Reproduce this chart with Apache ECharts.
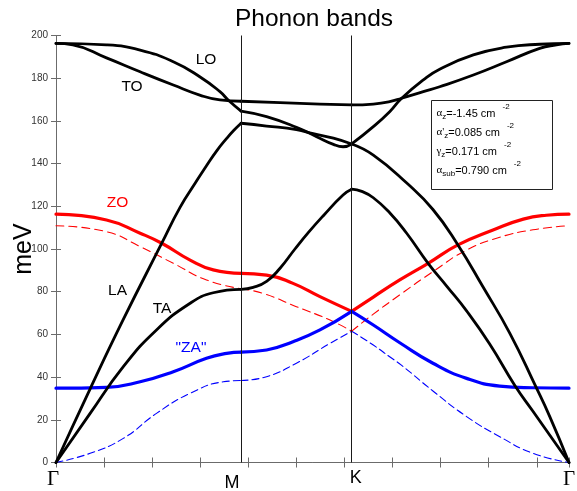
<!DOCTYPE html>
<html>
<head>
<meta charset="utf-8">
<script src="https://cdn.jsdelivr.net/npm/echarts@6/dist/echarts.min.js"></script>
<style>
  html, body { margin: 0; padding: 0; background: #fff; }
  #chart { width: 577px; height: 491px; }
</style>
</head>
<body>
<div id="chart"></div>
<script>
// High-symmetry points along the path Γ–M–K–Γ (path coordinate)
const kM = 3.85;
const kK = 6.15;
const kEnd = 10.67;
const kTicks = [0, kM, kK, kEnd];
const kTickLabels = ['Γ', 'M', 'K', 'Γ'];

// Phonon branches, [k, energy in meV]
const LO = [[0,196.3],[1.05,195.6],[1.75,193.2],[2.44,187.7],[2.99,180.7],[3.41,173.7],[3.58,169.8],[3.85,164.6],
  [4.38,162.0],[5.00,157.0],[5.42,152.6],[5.77,149.0],[5.97,147.9],[6.15,149.2],
  [6.60,157.3],[6.94,164.3],[7.19,170.6],[7.64,179.2],[7.98,184.2],[8.68,190.9],[9.37,194.5],[10.06,195.9],[10.67,196.3]];
const TO = [[0,196.3],[0.35,195.6],[1.05,189.5],[1.75,183.0],[2.44,176.8],[2.99,172.1],[3.41,169.8],[3.85,169.2],
  [4.66,168.6],[5.49,167.9],[6.15,167.5],
  [6.60,167.9],[6.94,169.0],[7.19,170.6],[7.64,173.7],[7.98,176.0],[8.68,181.5],[9.37,187.7],[10.06,194.0],[10.41,195.6],[10.67,196.3]];
const LA = [[0,0],[0.71,34.5],[1.40,67],[2.20,102.7],[2.58,119.5],[2.90,131],[3.13,139],[3.35,146.2],[3.55,151.8],[3.70,155.6],[3.85,158.9],
  [4.38,157.6],[5.00,155.9],[5.35,154.0],[5.77,151.9],[6.15,149.2],
  [6.60,144],[7.29,131],[7.84,118.5],[8.36,101.9],[8.88,82.3],[9.44,60.5],[9.98,35.5],[10.27,21.5],[10.67,0]];
const TA = [[0,0],[0.71,23],[1.40,44.9],[2.09,62.1],[2.79,74.6],[3.27,79.5],[3.85,81.1],
  [4.10,82],[4.38,84.8],[4.66,91],[4.97,100],[5.26,108],[5.56,115.6],[5.97,125.3],[6.15,128],
  [6.36,127],[6.60,124],[6.94,117],[7.29,107.5],[7.74,93.3],[8.13,82.5],[8.54,71],[9.02,55.5],[9.54,36.2],[9.92,24],[10.67,0]];
const ZO = [[0,116.3],[1.05,113.6],[1.75,107.4],[2.20,102.7],[2.79,94.8],[3.27,90.2],[3.85,88.6],
  [4.38,87.8],[4.93,83.9],[5.49,77.7],[6.15,70.8],
  [6.60,77.5],[7.15,85.5],[7.74,93.3],[8.36,101.9],[9.09,108.9],[9.72,114],[10.2,115.8],[10.67,116.3]];
const ZOfree = [[0,110.9],[1.05,108.1],[1.75,101.1],[2.44,93.3],[3.13,85.5],[3.85,81.4],
  [4.31,79.2],[5.00,73],[5.70,66.7],[6.15,61.5],
  [6.60,69.5],[7.15,78.5],[7.84,89.4],[8.54,99.5],[9.23,105.5],[9.92,109],[10.67,110.9]];
const ZA = [[0,34.8],[1.05,35.2],[1.75,37.8],[2.44,42.5],[3.13,48.8],[3.55,51.1],[3.85,51.7],
  [4.38,52.7],[4.93,56.6],[5.49,62.1],[6.15,70.8],
  [6.60,64.4],[7.15,56.1],[7.84,46.5],[8.54,39.4],[9.23,35.8],[9.92,35],[10.67,34.8]];
const ZAfree = [[0,0],[0.71,4.3],[1.40,11.3],[2.09,23],[2.79,32.4],[3.48,37.8],[3.85,38.4],
  [4.38,40.2],[5.00,46.5],[5.70,55.8],[6.15,61.5],
  [6.60,55],[6.94,49.5],[7.19,45.5],[7.84,33.5],[8.54,21.5],[9.23,12.1],[9.92,4.3],[10.67,0]];

// Model parameters shown in the box
const paramRows = [
  { sym: 'α', sub: 'z', value: '=-1.45 cm' },
  { sym: 'α\'', sub: 'z', value: '=0.085 cm' },
  { sym: 'γ', sub: 'z', value: '=0.171 cm' },
  { sym: 'α', sub: 'sub', value: '=0.790 cm' }
];

const BLACK = '#000000', RED = '#ff0000', BLUE = '#0000ff';
const branches = [
  { data: ZAfree, color: BLUE, width: 1.1, dash: [7, 4] },
  { data: ZOfree, color: RED, width: 1.1, dash: [8, 5] },
  { data: ZO, color: RED, width: 3.2 },
  { data: ZA, color: BLUE, width: 3.2 },
  { data: TA, color: BLACK, width: 2.8 },
  { data: LA, color: BLACK, width: 2.8 },
  { data: TO, color: BLACK, width: 2.8 },
  { data: LO, color: BLACK, width: 2.8 }
];

// Split every branch into the three path segments so the corners at M and K stay sharp
function segments(points) {
  const bounds = [[0, kM], [kM, kK], [kK, kEnd]];
  return bounds.map(([a, b]) => points.filter(p => p[0] >= a - 1e-9 && p[0] <= b + 1e-9));
}

const series = [];
branches.forEach(br => {
  segments(br.data).forEach(seg => {
    series.push({
      type: 'line',
      data: seg,
      smooth: 0.5,
      symbol: 'none',
      silent: true,
      lineStyle: { color: br.color, width: br.width, type: br.dash || 'solid', cap: 'round', join: 'round' },
      z: 3
    });
  });
});

// Vertical guides at M and K
series.push({
  type: 'line',
  data: [],
  symbol: 'none',
  z: 2,
  markLine: {
    silent: true,
    symbol: 'none',
    label: { show: false },
    lineStyle: { color: '#1a1a1a', width: 1, type: 'solid' },
    data: [{ xAxis: kM }, { xAxis: kK }]
  }
});

const AXIS_COLOR = '#6b6b6b';
const FONT = 'Liberation Sans, Arial, sans-serif';

function frameAxis(extra) {
  return Object.assign({
    type: 'value',
    axisLine: { show: true, lineStyle: { color: AXIS_COLOR, width: 1 } },
    axisTick: { show: true, inside: true, length: 5, lineStyle: { color: AXIS_COLOR, width: 1 } },
    splitLine: { show: false },
    axisLabel: { show: false }
  }, extra);
}

const option = {
  animation: false,
  backgroundColor: '#fff',
  title: {
    text: 'Phonon bands',
    left: 309,
    top: 2,
    textAlign: 'center',
    textStyle: { fontFamily: FONT, fontSize: 24.5, fontWeight: 'normal', color: '#000' }
  },
  grid: { left: 56, right: 8, top: 35.5, bottom: 28.5, containLabel: false, outerBoundsMode: 'none' },
  xAxis: [
    frameAxis({ min: 0, max: kEnd, interval: 1, position: 'bottom' }),
    frameAxis({ min: 0, max: kEnd, interval: 1, position: 'top' })
  ],
  yAxis: [
    frameAxis({
      min: 0, max: 200, interval: 20, position: 'left',
      name: 'meV', nameLocation: 'middle', nameGap: 19, nameRotate: 90, nameMoveOverlap: false,
      nameTextStyle: { fontFamily: FONT, fontSize: 25, color: '#000' },
      axisLabel: { show: true, fontFamily: FONT, fontSize: 10, color: '#333', margin: 8 }
    }),
    frameAxis({ min: 0, max: 200, interval: 20, position: 'right' })
  ],
  series: series
};

const chart = echarts.init(document.getElementById('chart'), null, { renderer: 'canvas' });
chart.setOption(option);

const graphics = [];

// Path labels under the k axis
const tickLabelStyle = [
  { dx: -3, dy: 17, font: '21px Liberation Serif, serif' },
  { dx: -9, dy: 20.5, font: '18px ' + FONT },
  { dx: 4, dy: 15.5, font: '18px ' + FONT },
  { dx: 0, dy: 17, font: '21px Liberation Serif, serif' }
];
const yBase = chart.convertToPixel({ yAxisIndex: 0 }, 0);
kTicks.forEach((k, i) => {
  const st = tickLabelStyle[i];
  graphics.push({
    type: 'text',
    x: chart.convertToPixel({ xAxisIndex: 0 }, k) + st.dx,
    y: yBase + st.dy,
    z: 10,
    style: { text: kTickLabels[i], fill: '#000', font: st.font, textAlign: 'center', textVerticalAlign: 'middle' }
  });
});

// Branch names
const branchNames = [
  { text: 'LO', x: 206, y: 60, color: BLACK },
  { text: 'TO', x: 132, y: 86.5, color: BLACK },
  { text: 'ZO', x: 117.5, y: 203, color: RED },
  { text: 'LA', x: 117.5, y: 291, color: BLACK },
  { text: 'TA', x: 162, y: 309, color: BLACK },
  { text: '"ZA"', x: 191, y: 347.5, color: BLUE }
];
branchNames.forEach(n => {
  graphics.push({
    type: 'text', x: n.x, y: n.y, z: 10,
    style: { text: n.text, fill: n.color, font: '15.5px ' + FONT, textAlign: 'center', textVerticalAlign: 'middle' }
  });
});

// Parameter box
const box = { type: 'group', x: 431.5, y: 100.5, z: 20, children: [] };
box.children.push({
  type: 'rect',
  shape: { x: 0, y: 0, width: 121, height: 89 },
  style: { fill: '#fff', stroke: '#222', lineWidth: 1 }
});
paramRows.forEach((r, i) => {
  box.children.push({
    type: 'text',
    x: 5, y: 13 + i * 19,
    style: {
      text: '{g|' + r.sym + '}{s|' + r.sub + '}{t|' + r.value + '}{p|-2}',
      textVerticalAlign: 'middle',
      rich: {
        g: { fontFamily: 'Liberation Serif, serif', fontSize: 11, lineHeight: 14, fill: '#000', verticalAlign: 'middle' },
        s: { fontFamily: FONT, fontSize: 8, lineHeight: 14, fill: '#000', verticalAlign: 'middle', padding: [6, 0, 0, 0] },
        t: { fontFamily: FONT, fontSize: 11, lineHeight: 14, fill: '#000', verticalAlign: 'middle' },
        p: { fontFamily: FONT, fontSize: 8, lineHeight: 14, fill: '#000', verticalAlign: 'middle', padding: [0, 0, 13, 7] }
      }
    }
  });
});
graphics.push(box);

chart.setOption({ graphic: graphics });
</script>
</body>
</html>
